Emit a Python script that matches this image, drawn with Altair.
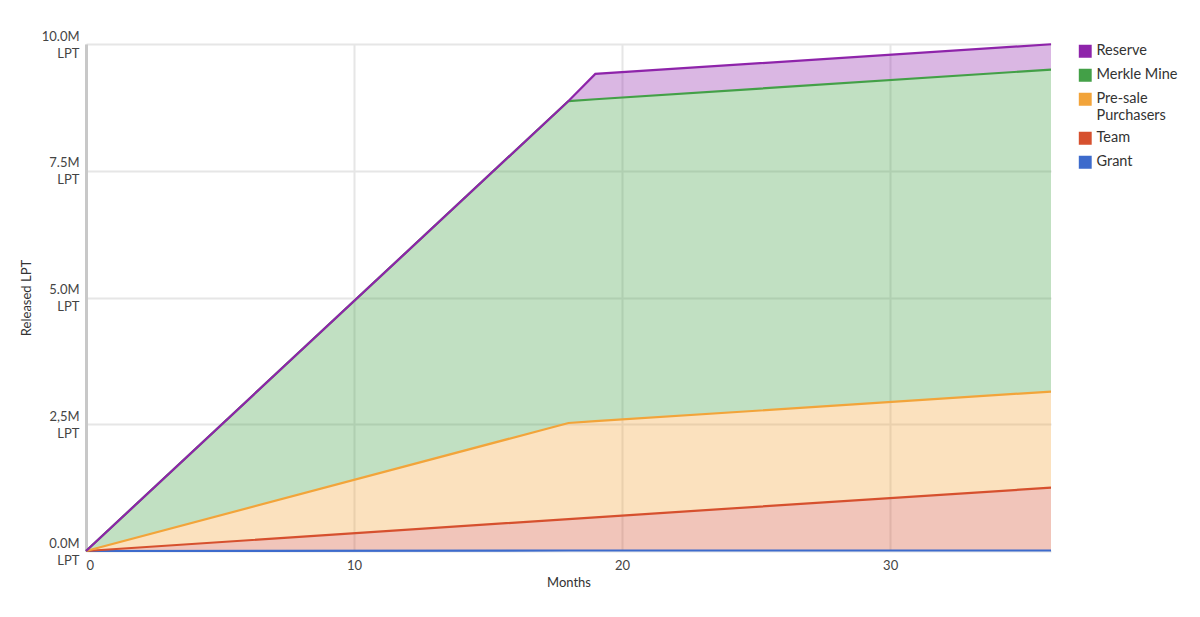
import altair as alt
import pandas as pd

months = [0, 18, 19, 36]
series = ["Reserve", "Merkle Mine", "Pre-sale Purchasers", "Team", "Grant"]
colors = ["#8e24aa", "#43a047", "#f2a43a", "#d6502e", "#3d6bcc"]
stack_rank = {"Grant": 0, "Team": 1, "Pre-sale Purchasers": 2, "Merkle Mine": 3, "Reserve": 4}

grant = [0.0, 0.01e6, 0.01e6, 0.01e6]
team = [0.0, 0.62e6, 0.655e6, 1.24e6]
presale = [0.0, 1.895e6, 1.895e6, 1.895e6]
merkle = [0.0, 6.35e6, 6.35e6, 6.35e6]
reserve = [0.0, 0.0, 0.5e6, 0.5e6]

values = {"Grant": grant, "Team": team, "Pre-sale Purchasers": presale,
          "Merkle Mine": merkle, "Reserve": reserve}

rows = []
for s, vals in values.items():
    for m, v in zip(months, vals):
        rows.append({"month": m, "series": s, "value": v, "rank": stack_rank[s]})
df = pd.DataFrame(rows)

color = alt.Color("series:N",
                  scale=alt.Scale(domain=series, range=colors),
                  legend=alt.Legend(title=None, symbolType="square", symbolSize=130,
                                    symbolOpacity=1, labelFont="Lato", labelFontSize=14.5,
                                    labelColor="#333", offset=22, rowPadding=6,
                                    labelExpr="datum.label == 'Pre-sale Purchasers' ? ['Pre-sale', 'Purchasers'] : datum.label"))

x = alt.X("month:Q", title="Months",
          scale=alt.Scale(domain=[0, 36], nice=False),
          axis=alt.Axis(values=[0, 10, 20, 30], ticks=False, domain=False,
                        labelFont="Lato", labelFontSize=13, labelColor="#444",
                        titleFont="Lato", titleFontSize=13, titleFontWeight="normal",
                        titleColor="#333", titlePadding=4, labelPadding=8,
                        gridColor="#e6e6e6", gridWidth=2))

base = alt.Chart(df).transform_stack(
    stack="value", groupby=["month"], sort=[alt.SortField("rank", order="ascending")],
    as_=["y0", "y1"]
)

yaxis = alt.Axis(values=[0, 2500000, 5000000, 7500000, 10000000], ticks=False,
                 domain=True, domainColor="#c8c8c8", domainWidth=3,
                 labelFont="Lato", labelFontSize=13, labelColor="#444", labelPadding=7,
                 labelExpr="[datum.value == 2500000 ? '2,5M' : format(datum.value / 1000000, '.1f') + 'M', 'LPT']",
                 labelLineHeight=17, labelOffset=-8,
                 titleFont="Lato", titleFontSize=13, titleFontWeight="normal",
                 titleColor="#333", titlePadding=8,
                 gridColor="#e6e6e6", gridWidth=2)

areas = base.mark_area(fillOpacity=0.33, strokeWidth=0).encode(
    x=x,
    y=alt.Y("y1:Q", title="Released LPT", scale=alt.Scale(domain=[0, 10000000], nice=False), axis=yaxis),
    y2="y0:Q",
    color=color,
    detail="series:N",
)

lines = base.mark_line(strokeWidth=2.2).encode(
    x=x,
    y=alt.Y("y1:Q"),
    color=color,
    detail="series:N",
)

chart = alt.layer(areas, lines).properties(
    width=965, height=507,
    padding={"left": 12, "top": 22, "right": 5, "bottom": 5},
).configure_view(stroke=None).configure_axis(labelFont="Lato")

chart.save("out.html", embed_options={"renderer": "svg", "actions": False})
